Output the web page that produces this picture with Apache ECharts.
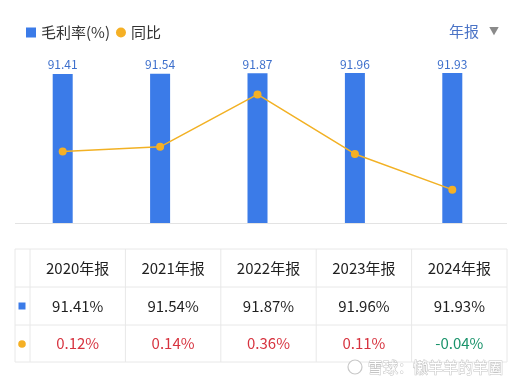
<!DOCTYPE html>
<html><head><meta charset="utf-8">
<script src="https://cdn.jsdelivr.net/npm/echarts@6/dist/echarts.min.js"></script>
<style>html,body{margin:0;padding:0;background:#fff}#c{width:521px;height:383px}</style>
</head><body><div id="c"></div>
<script>
var categories = ['2020年报','2021年报','2022年报','2023年报','2024年报'];
var grossMargin = [91.41, 91.54, 91.87, 91.96, 91.93];
var yoy = [0.12, 0.14, 0.36, 0.11, -0.04];
var seriesNames = ['毛利率(%)','同比'];

var FONT = '"Noto Sans CJK SC", Roboto, sans-serif';
var BLUE = '#3b7be8', ORANGE = '#f5b025', RED = '#d7333f', GREEN = '#1a936b', LINE = '#e8e8e8';
var chart = echarts.init(document.getElementById('c'));

// table geometry
var tX0 = 15, tX1 = 30, tX2 = 507;
var rowsY = [249, 287, 325, 362];
var colW = (tX2 - tX1) / categories.length;
var g = [];
rowsY.forEach(function(y){ g.push({type:'line', shape:{x1:tX0,y1:y,x2:tX2,y2:y}, style:{stroke:LINE,lineWidth:1}}); });
g.push({type:'line', shape:{x1:tX0,y1:rowsY[0],x2:tX0,y2:rowsY[3]}, style:{stroke:LINE,lineWidth:1}});
for (var i=0;i<=categories.length;i++){
  var x = tX1 + i*colW;
  g.push({type:'line', shape:{x1:x,y1:rowsY[0],x2:x,y2:rowsY[3]}, style:{stroke:LINE,lineWidth:1}});
}
categories.forEach(function(c,i){
  var cx = tX1 + colW*(i+0.5);
  g.push({type:'text', x:cx, y:(rowsY[0]+rowsY[1])/2, style:{text:c, fill:'#1f1f1f', font:'15px '+FONT, align:'center', verticalAlign:'middle'}});
  g.push({type:'text', x:cx, y:(rowsY[1]+rowsY[2])/2, style:{text:grossMargin[i].toFixed(2)+'%', fill:'#1f1f1f', font:'15px '+FONT, align:'center', verticalAlign:'middle'}});
  g.push({type:'text', x:cx, y:(rowsY[2]+rowsY[3])/2, style:{text:yoy[i].toFixed(2)+'%', fill:yoy[i]<0?GREEN:RED, font:'15px '+FONT, align:'center', verticalAlign:'middle'}});
});
g.push({type:'rect', shape:{x:18.5,y:302.5,width:7,height:7}, style:{fill:BLUE}});
g.push({type:'circle', shape:{cx:22,cy:344,r:3.8}, style:{fill:ORANGE}});
g.push({type:'line', shape:{x1:15,y1:223.5,x2:507,y2:223.5}, style:{stroke:'#e3e3e3',lineWidth:1}});
g.push({type:'text', x:449, y:31, style:{text:'年报', fill:'#4a73c6', font:'15px '+FONT, verticalAlign:'middle'}});
g.push({type:'text', x:489, y:31, style:{text:'▼', fill:'#8a8a8a', font:'10px '+FONT, verticalAlign:'middle'}});
// watermark
g.push({type:'circle', shape:{cx:355,cy:367,r:7}, style:{fill:'#fff', stroke:'#c8c8c8', lineWidth:1.2}});
g.push({type:'text', x:368, y:367, style:{text:'雪球：懒羊羊的羊圈', fill:'#ffffff', stroke:'#c4c4c4', lineWidth:1, font:'15px '+FONT, verticalAlign:'middle'}});

chart.setOption({
  animation:false,
  textStyle:{fontFamily:FONT},
  legend:{
    left:21, top:20, itemWidth:10, itemHeight:10, itemGap:6,
    textStyle:{fontSize:15, color:'#333', fontFamily:FONT},
    data:[{name:seriesNames[0], icon:'rect'},{name:seriesNames[1], icon:'circle'}]
  },
  grid:{left:14, right:20, top:73, bottom:160},
  xAxis:{type:'category', data:categories, axisLine:{show:false}, axisTick:{show:false}, axisLabel:{show:false}},
  yAxis:[
    {type:'value', min:0, max:91.96, show:false, splitLine:{show:false}},
    {type:'value', min:-0.18, max:0.45, show:false, splitLine:{show:false}}
  ],
  series:[
    {name:seriesNames[0], type:'bar', data:grossMargin, barWidth:20, itemStyle:{color:BLUE},
     label:{show:true, position:'top', distance:3, color:'#3d6fcc', fontSize:12, fontFamily:FONT}},
    {name:seriesNames[1], type:'line', yAxisIndex:1, data:yoy, symbol:'circle', symbolSize:8,
     itemStyle:{color:ORANGE}, lineStyle:{color:'#f2b124', width:1.5}, z:5}
  ],
  graphic:g
});
</script></body></html>
